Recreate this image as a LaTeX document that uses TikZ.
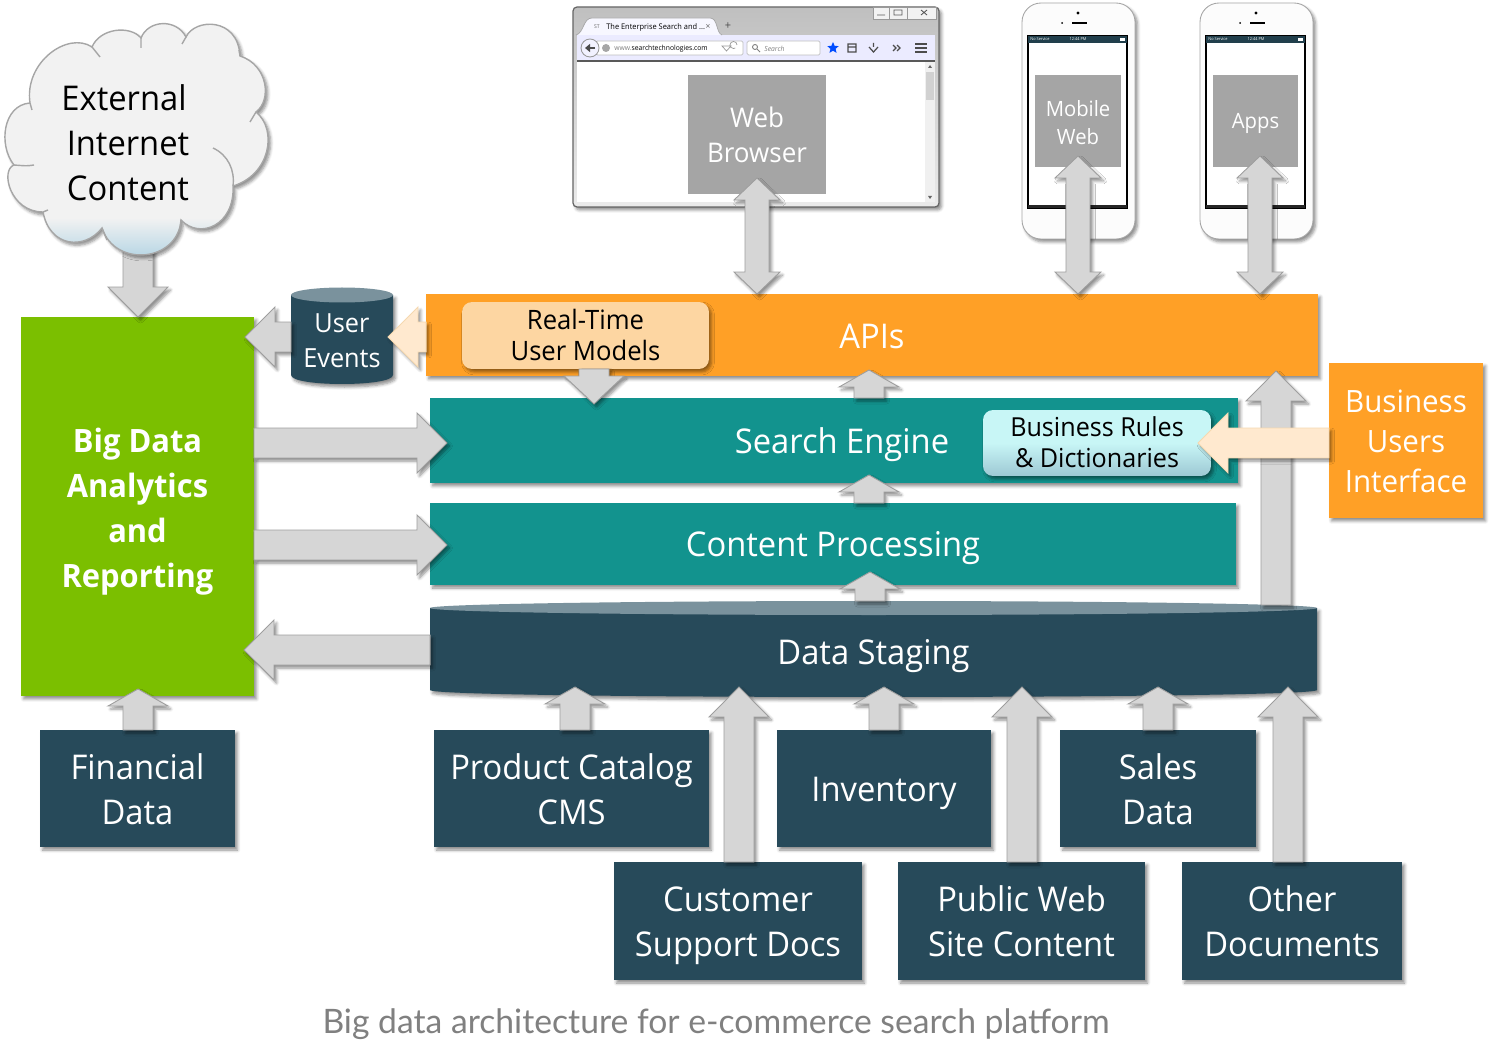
\documentclass[tikz,border=0pt]{standalone}
\usepackage{fontspec}
\setmainfont[FakeStretch=0.96]{Open Sans}
\newfontfamily\capfont{Lato}
\usetikzlibrary{positioning,calc,shapes.geometric,shadows.blur,arrows.meta}
\definecolor{apiorange}{HTML}{FFA026}
\definecolor{deepteal}{HTML}{12938E}
\definecolor{slate}{HTML}{274A5A}
\definecolor{slatetop}{HTML}{7A929D}
\definecolor{biggreen}{HTML}{7BBF00}
\definecolor{screengray}{HTML}{A5A5A5}
\definecolor{arrowfill}{HTML}{D6D6D6}
\definecolor{arrowedge}{HTML}{9E9E9E}
\definecolor{creamfill}{HTML}{FFE9CF}
\definecolor{creamedge}{HTML}{F5D8B0}
\definecolor{modelfill}{HTML}{FDD6A2}
\definecolor{rulestop}{HTML}{C8F6F6}
\definecolor{rulesbot}{HTML}{9DC8D4}
\definecolor{cloudfill}{HTML}{F2F2F2}
\definecolor{cloudblue}{HTML}{B5D5E4}
\pgfdeclareverticalshading{cloudshade}{100bp}{color(0bp)=(cloudblue); color(27bp)=(cloudblue); color(35bp)=(cloudfill); color(100bp)=(cloudfill)}
\newcommand{\lineup}[1][1em]{\rule{0pt}{#1}}
\tikzset{
  softshadow/.style={blur shadow={shadow xshift=.05cm, shadow yshift=-.06cm, shadow blur steps=5, shadow opacity=45, shadow blur radius=.06cm}},
  lifted/.style={execute at begin node={\rule[-.22em]{0pt}{1.22em}}, execute at end node={\rule[-.22em]{0pt}{1.22em}}},
  block/.style={rectangle, inner sep=0pt, outer sep=0pt, align=center, text=white, lifted, softshadow},
  datacard/.style={block, fill=slate, font=\fontsize{19.4}{25.5}\selectfont},
  layer/.style={block, fill=deepteal, font=\fontsize{19.4}{25}\selectfont},
  screenbox/.style={rectangle, inner sep=0pt, outer sep=0pt, align=center, text=white, fill=screengray, lifted},
  pill/.style={block, rounded corners=.2cm, text=black},
  blockarrow/.style n args={3}{draw=arrowedge, fill=arrowfill, line width=.5pt, softshadow,
    to path={-- ($(\tikztostart)!#1!90:(\tikztotarget)$)
      -- ($($(\tikztotarget)!#3!(\tikztostart)$)!#1!90:(\tikztotarget)$)
      -- ($($(\tikztotarget)!#3!(\tikztostart)$)!#2!90:(\tikztotarget)$)
      -- (\tikztotarget)
      -- ($($(\tikztotarget)!#3!(\tikztostart)$)!#2!-90:(\tikztotarget)$)
      -- ($($(\tikztotarget)!#3!(\tikztostart)$)!#1!-90:(\tikztotarget)$)
      -- ($(\tikztostart)!#1!-90:(\tikztotarget)$) -- cycle}},
  bothways/.style n args={3}{draw=arrowedge, fill=arrowfill, line width=.5pt, softshadow,
    to path={-- ($($(\tikztostart)!#3!(\tikztotarget)$)!#2!-90:(\tikztotarget)$)
      -- ($($(\tikztostart)!#3!(\tikztotarget)$)!#1!-90:(\tikztotarget)$)
      -- ($($(\tikztotarget)!#3!(\tikztostart)$)!#1!90:(\tikztostart)$)
      -- ($($(\tikztotarget)!#3!(\tikztostart)$)!#2!90:(\tikztostart)$)
      -- (\tikztotarget)
      -- ($($(\tikztotarget)!#3!(\tikztostart)$)!#2!-90:(\tikztostart)$)
      -- ($($(\tikztotarget)!#3!(\tikztostart)$)!#1!-90:(\tikztostart)$)
      -- ($($(\tikztostart)!#3!(\tikztotarget)$)!#1!90:(\tikztotarget)$)
      -- ($($(\tikztostart)!#3!(\tikztotarget)$)!#2!90:(\tikztotarget)$) -- cycle}},
  longhead/.style={blockarrow={.3cm}{.6cm}{.6cm}},
  shorthead/.style={blockarrow={.3cm}{.6cm}{.34cm}},
  phonearrow/.style={bothways={.24cm}{.46cm}{.44cm}},
  creamarrow/.style={blockarrow={.3cm}{.6cm}{.6cm}, draw=creamedge, fill=creamfill},
}

\begin{document}
\begin{tikzpicture}[x=0.02cm, y=-0.02cm]
  \useasboundingbox (0,0) rectangle (1500,1060);

  % browser window
  \draw[draw=black!60, line width=.7pt, rounded corners=.08cm, top color=black!25, bottom color=black!8, softshadow] (573,7) rectangle (939,207);
  \fill[white] (577,61) rectangle (925,202);
  \fill[black!6] (925,61) rectangle (935,202);
  \fill[black!18] (926,72) rectangle (934,100);
  \fill[black!60] (928,68) -- (932,68) -- (930,65) -- cycle (928,196) -- (932,196) -- (930,199) -- cycle;
  \fill[blue!8] (577,35) rectangle (935,61);
  \draw[black!65, line width=.6pt] (577,61) -- (935,61);
  \draw[black!35, line width=.4pt, fill=blue!3] (576,35) .. controls (584,33) and (583,18) .. (592,18) -- (710,18) .. controls (718,18) and (716,33) .. (722,35);
  \node[font=\fontsize{3}{3}\selectfont, text=black!60] (tabicon) at (597,27) {ST};
  \node[font=\fontsize{4.4}{5}\selectfont, anchor=west, inner sep=0pt] (tabtitle) at (606,27) {The Enterprise Search and ...};
  \node[font=\fontsize{5}{5}\selectfont, text=black!60] (tabclose) at (708,26.5) {×};
  \node[font=\fontsize{6.5}{6}\selectfont, text=black!70] (tabplus) at (728,26.5) {+};
  \draw[black!40, line width=.4pt, fill=black!5] (873,7) rectangle (936,19);
  \draw[black!40, line width=.4pt] (889,7) -- (889,19) (907,7) -- (907,19);
  \draw[black!65, line width=.5pt] (877,15) -- (885,15) (894,10) rectangle (902,15) (921,10) -- (927,15) (927,10) -- (921,15);
  \draw[black!25, line width=.4pt, fill=white, rounded corners=.03cm] (596,41) rectangle (743,55) (747,41) rectangle (820,55);
  \draw[black!40, line width=.5pt, fill=blue!5] (590,48) circle (9);
  \draw[-{Triangle[width=.16cm, length=.1cm]}, black!70, line width=1pt] (595,48) -- (585,48);
  \fill[black!35] (606,48) circle (4);
  \node[font=\fontsize{4}{5}\selectfont, anchor=west, inner sep=0pt] (urltext) at (614,48.5) {\textcolor{black!50}{www.}searchtechnologies.com};
  \node[font=\fontsize{4}{5}\selectfont\itshape, text=black!50, anchor=west, inner sep=0pt] (searchtext) at (764,48.5) {Search};
  \draw[black!50, line width=.5pt] (755,47) circle (2.5) (757,49) -- (760,52);
  \draw[black!40, line width=.4pt] (722,46) -- (731,46) -- (726.5,51) -- cycle (737,45) arc (0:-300:3.5);
  \node[star, star points=5, star point ratio=2.2, fill=blue!70!cyan, inner sep=0pt, minimum size=.24cm] (starbtn) at (833,48) {};
  \draw[black!70, line width=.7pt] (848,44) rectangle (856,52) (848,47) -- (856,47) (869,47) -- (873.5,52) -- (878,47) (873.5,47) -- (873.5,43) (893,45) -- (896,48) -- (893,51) (897,45) -- (900,48) -- (897,51);
  \draw[black!70, line width=1pt] (915,44) -- (927,44) (915,48) -- (927,48) (915,52) -- (927,52);

  % phones
  \foreach \ph in {0,178}{
    \begin{scope}[shift={(\ph,0)}]
      \draw[black!35, line width=.5pt, fill=black!1, rounded corners=.38cm, softshadow] (1022,3) rectangle (1135,239);
      \draw[black, line width=.7pt, fill=white] (1028,36) rectangle (1127,208);
      \fill[slate!85!black] (1028,36) rectangle (1127,43);
      \fill[black!85] (1028,205) rectangle (1127,208);
      \fill[black] (1078,13) circle (1.6) (1062,23) circle (1);
      \draw[black, line width=.7pt] (1072,23) -- (1087,23);
      \node[font=\fontsize{2.3}{3}\selectfont, text=white, anchor=west, inner sep=0pt] at (1030,39.5) {No Service};
      \node[font=\fontsize{2.3}{3}\selectfont, text=white, inner sep=0pt] at (1078,39.5) {12:44 PM};
      \fill[white] (1120,38) rectangle (1125,41);
    \end{scope}
  }

  % screens
  \node[screenbox, minimum width=2.76cm, minimum height=2.38cm, font=\fontsize{15.4}{20}\selectfont] (webbox) at (757,134.5) {\lineup[.98em]Web\\Browser};
  \node[screenbox, minimum width=1.72cm, minimum height=1.84cm, font=\fontsize{12}{16}\selectfont] (mobilebox) at (1078,121) {\lineup[1.09em]Mobile\\Web};
  \node[screenbox, minimum width=1.7cm, minimum height=1.84cm, font=\fontsize{12}{16}\selectfont] (appsbox) at (1255.5,121) {\raisebox{.02cm}{Apps}};

  % main blocks
  \node[block, fill=biggreen, minimum width=4.66cm, minimum height=7.58cm, font=\fontsize{18.3}{25.5}\selectfont\bfseries] (big) at (137.5,506.5) {\lineup[1.07em]Big Data\\Analytics\\and\\Reporting};
  \node[block, fill=apiorange, minimum width=17.84cm, minimum height=1.64cm, font=\fontsize{19.4}{25}\selectfont] (api) at (872,335) {APIs};
  \node[layer, minimum width=16.16cm, minimum height=1.7cm] (search) at (834,440.5) {\hspace*{.32cm}Search Engine};
  \node[layer, minimum width=16.12cm, minimum height=1.64cm] (content) at (833,544) {Content Processing};
  \node[block, fill=apiorange, minimum width=3.08cm, minimum height=3.1cm, font=\fontsize{17.5}{22.7}\selectfont] (bizui) at (1406,440.5) {\lineup[1.02em]Business\\Users\\Interface};

  % drums
  \path[fill=slate, softshadow] (430,608) -- (430,690) .. controls (430,699.3) and (1317,699.3) .. (1317,690) -- (1317,608) -- cycle;
  \fill[slatetop] (873.5,608) ellipse [x radius=443.5, y radius=7];
  \node[rectangle, inner sep=0pt, outer sep=0pt, lifted, text=white, minimum width=17.74cm, minimum height=1.92cm, font=\fontsize{19.4}{25}\selectfont] (staging) at (873.5,649) {\raisebox{-.11cm}{Data Staging}};
  \path[fill=slate, softshadow] (291,295) -- (291,375) .. controls (291,387) and (393,387) .. (393,375) -- (393,295) -- cycle;
  \fill[slatetop] (342,295) ellipse [x radius=51, y radius=7.5];
  \node[rectangle, inner sep=0pt, outer sep=0pt, lifted, align=center, text=white, minimum width=2.04cm, minimum height=1.92cm, font=\fontsize{15}{20}\selectfont] (events) at (342,337) {\lineup[1.21em]User\\Events};

  % sources
  \node[datacard, minimum width=3.9cm, minimum height=2.34cm] (fin) at (137.5,788.5) {\lineup Financial\\Data};
  \node[datacard, minimum width=5.5cm, minimum height=2.34cm] (prod) at (571.5,788.5) {\lineup Product Catalog\\CMS};
  \node[datacard, minimum width=4.28cm, minimum height=2.34cm] (inv) at (884,788.5) {Inventory};
  \node[datacard, minimum width=3.92cm, minimum height=2.34cm] (sales) at (1158,788.5) {\lineup Sales\\Data};
  \node[datacard, minimum width=4.96cm, minimum height=2.36cm] (cust) at (738,921) {\lineup Customer\\Support Docs};
  \node[datacard, minimum width=4.94cm, minimum height=2.36cm] (pub) at (1021.5,921) {\lineup Public Web\\Site Content};
  \node[datacard, minimum width=4.4cm, minimum height=2.36cm] (other) at (1292,921) {\lineup Other\\Documents};

  % arrow tips
  \coordinate (webtop) at (757,178);
  \coordinate (mobtop) at (1078,156);
  \coordinate (apptop) at (1260,156);
  \coordinate (cloudbase) at (138,240);
  \coordinate (tipmodel) at (594,404);
  \coordinate (tipapi) at (869,370);
  \coordinate (tipsearch) at (869,475);
  \coordinate (tipcontent) at (870,572);
  \coordinate (tipbypass) at (1276,371);
  \coordinate (tipfin) at (138,689);
  \coordinate (tipprod) at (575,687);
  \coordinate (tipcust) at (739,687);
  \coordinate (tipinv) at (884,687);
  \coordinate (tippub) at (1022,687);
  \coordinate (tipsales) at (1158,687);
  \coordinate (tipother) at (1288,687);
  \coordinate (tipevents) at (245,337);
  \coordinate (tipapievents) at (388,337);
  \coordinate (tipstaging) at (244,650);
  \coordinate (tiprules) at (1198,443);
  \coordinate (tipsearchin) at (447,443);
  \coordinate (tipcontentin) at (447,545);

  % connectors
  \draw[phonearrow] (webtop) to (webtop |- api.north);
  \draw[phonearrow] (mobtop) to (mobtop |- api.north);
  \draw[phonearrow] (apptop) to (apptop |- api.north);
  \draw[longhead] (cloudbase) to (cloudbase |- big.north);
  \draw[longhead] (events.west |- tipevents) to (tipevents);
  \draw[longhead] (big.east |- tipsearchin) to (tipsearchin);
  \draw[longhead] (big.east |- tipcontentin) to (tipcontentin);
  \draw[longhead] (staging.west |- tipstaging) to (tipstaging);
  \draw[longhead] ([yshift=-.08cm]tipbypass |- staging.north) to (tipbypass);
  \draw[shorthead] (tipapi |- search.north) to (tipapi);
  \draw[shorthead] (tipsearch |- content.north) to (tipsearch);
  \draw[shorthead] (tipcontent |- staging.north) to (tipcontent);
  \draw[shorthead] (tipfin |- fin.north) to (tipfin);
  \draw[shorthead] (tipprod |- prod.north) to (tipprod);
  \draw[shorthead] (tipinv |- inv.north) to (tipinv);
  \draw[shorthead] (tipsales |- sales.north) to (tipsales);
  \draw[longhead] (tipcust |- cust.north) to (tipcust);
  \draw[longhead] (tippub |- pub.north) to (tippub);
  \draw[longhead] (tipother |- other.north) to (tipother);

  % boxes on top of the connectors
  \node[pill, fill=modelfill, minimum width=4.94cm, minimum height=1.34cm, font=\fontsize{15.2}{17.5}\selectfont] (model) at (585.5,335.5) {\lineup[.91em]Real-Time\\User Models};
  \draw[blockarrow={.3cm}{.6cm}{.56cm}] (tipmodel |- model.south) to (tipmodel);
  \node[pill, top color=rulestop, bottom color=rulesbot, middle color=rulestop, minimum width=4.56cm, minimum height=1.32cm, font=\fontsize{14.9}{17.5}\selectfont] (rules) at (1097,443) {\lineup[.91em]Business Rules\\\& Dictionaries};
  \draw[creamarrow] (api.west |- tipapievents) to (tipapievents);
  \draw[creamarrow] (bizui.west |- tiprules) to (tiprules);

  % cloud
  \path[shading=cloudshade, draw=black!35, line width=.8pt, softshadow]
    (30,103) .. controls (24,62) and (68,31) .. (92,47)
    .. controls (100,28) and (130,25) .. (141,38)
    .. controls (148,20) and (176,18) .. (186,37)
    .. controls (195,18) and (238,17) .. (240,56)
    .. controls (268,65) and (272,100) .. (256,112)
    .. controls (278,130) and (270,175) .. (233,186)
    .. controls (235,225) and (200,240) .. (181,220)
    .. controls (178,262) and (115,268) .. (102,228)
    .. controls (85,250) and (50,248) .. (43,212)
    .. controls (10,212) and (0,170) .. (14,165)
    .. controls (-2,145) and (3,105) .. (30,103) -- cycle;
  \draw[black!35, line width=.8pt] (30,103) -- (32,110) (34,165) .. controls (27,166) .. (14,165)
    (213,148) .. controls (228,155) and (235,170) .. (233,186) (256,112) -- (250,122)
    (240,56) -- (239,50) (186,37) -- (182,44) (141,38) -- (141,48) (92,47) -- (100,57)
    (102,228) -- (107,240) (181,220) -- (180,232) (43,212) -- (48,210);
  \node[align=center, inner sep=0pt, text=black, font=\fontsize{19.4}{25.5}\selectfont] (cloud) at (128,143) {External\hspace*{.16cm}\\Internet\\Content};

  % caption
  \node[font=\capfont\fontsize{19.17}{24}\selectfont, text=black!50] (caption) at (716,1024) {Big data architecture for e-commerce search platform};
\end{tikzpicture}
\end{document}
